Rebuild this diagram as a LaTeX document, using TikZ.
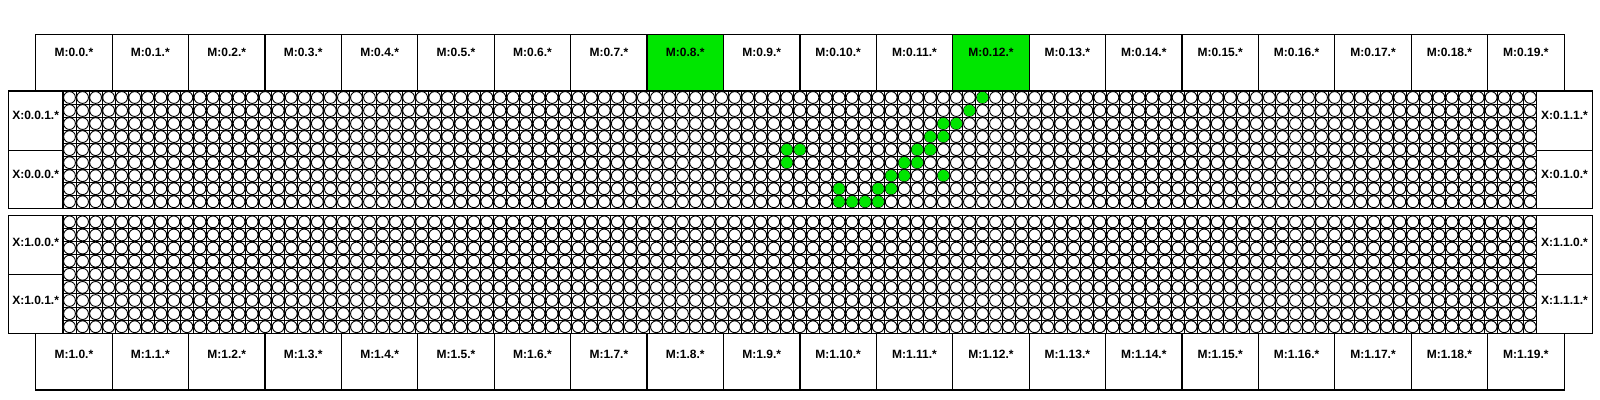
\documentclass[tikz,border=0pt]{standalone}
\usepackage{fontspec}
\setmainfont{Liberation Sans}
\definecolor{hl}{RGB}{0,230,0}
\newcommand\meshgroup[2]{%
  \begin{scope}
  \clip (63,#1) rectangle (1536.7,{#1+9*#2});
  \foreach \c in {0,...,113}{\draw[gl] ({63+13.042*\c},#1) -- ({63+13.042*\c},{#1+9*#2});}
  \foreach \r in {0,...,9}{\draw[gl] (63,{#1+#2*\r}) -- (1536.7,{#1+#2*\r});}
  \foreach \c in {0,...,112}{\foreach \r in {0,...,8}{%
    \draw[cell] ({63+13.042*(\c+0.5)},{#1+#2*(\r+0.5)}) circle[radius=2.95pt];}}
  \end{scope}}
\begin{document}
\begin{tikzpicture}[x=0.5pt,y=-0.5pt,
  box/.style={draw=black,line width=0.6pt},
  lbl/.style={font=\fontsize{6}{7}\selectfont\bfseries,inner sep=0pt},
  gl/.style={draw=black,line width=0.5pt},
  cell/.style={draw=black,fill=white,line width=0.45pt},
  hot/.style={fill=hl}]
\fill[white] (0,0) rectangle (1600,400);
\useasboundingbox (0,0) rectangle (1600,400);
% highlighted M boxes
\foreach \i in {8,12}{
  \fill[hl] ({35.7+76.42*\i},34.3) rectangle ({35.7+76.42*(\i+1)},91);
}
% M rows
\foreach \i in {0,...,19}{
  \pgfmathsetmacro\xa{35.7+76.42*\i}
  \pgfmathsetmacro\xb{35.7+76.42*(\i+1)}
  \draw[box] (\xa,34.3) rectangle (\xb,91);
  \node[lbl] (mt\i) at ({(\xa+\xb)/2},52.7) {M:0.\i.*};
  \draw[box] (\xa,333.3) rectangle (\xb,390);
  \node[lbl] (mb\i) at ({(\xa+\xb)/2},354) {M:1.\i.*};
}
% meshes
\meshgroup{91}{13.03}
\meshgroup{215.3}{13.11}
% highlighted routers
\foreach \c/\r in {70/0,69/1,67/2,68/2,66/3,67/3,55/4,56/4,65/4,66/4,55/5,64/5,65/5,63/6,64/6,67/6,59/7,62/7,63/7,59/8,60/8,61/8,62/8}{
  \fill[hot] ({63+13.042*(\c+0.5)},{91+13.03*(\r+0.5)}) circle[radius=2.85pt];
}
% group outlines and X boxes
\draw[box] (8.3,91) rectangle (1592.3,208.3);
\draw[box] (8.3,91) rectangle (63,150.3);
\draw[box] (8.3,150.3) rectangle (63,208.3);
\draw[box] (1536.7,91) rectangle (1592.3,150.3);
\draw[box] (1536.7,150.3) rectangle (1592.3,208.3);
\draw[box] (8.3,215.3) rectangle (1592.3,333.3);
\draw[box] (8.3,215.3) rectangle (63,274.3);
\draw[box] (8.3,274.3) rectangle (63,333.3);
\draw[box] (1536.7,215.3) rectangle (1592.3,274.3);
\draw[box] (1536.7,274.3) rectangle (1592.3,333.3);
\node[lbl] (x001) at (35.6,115) {X:0.0.1.*};
\node[lbl] (x000) at (35.6,174) {X:0.0.0.*};
\node[lbl] (x011) at (1564.5,115) {X:0.1.1.*};
\node[lbl] (x010) at (1564.5,174) {X:0.1.0.*};
\node[lbl] (x100) at (35.6,242.3) {X:1.0.0.*};
\node[lbl] (x101) at (35.6,300) {X:1.0.1.*};
\node[lbl] (x110) at (1564.5,242.3) {X:1.1.0.*};
\node[lbl] (x111) at (1564.5,300) {X:1.1.1.*};
\end{tikzpicture}
\end{document}
